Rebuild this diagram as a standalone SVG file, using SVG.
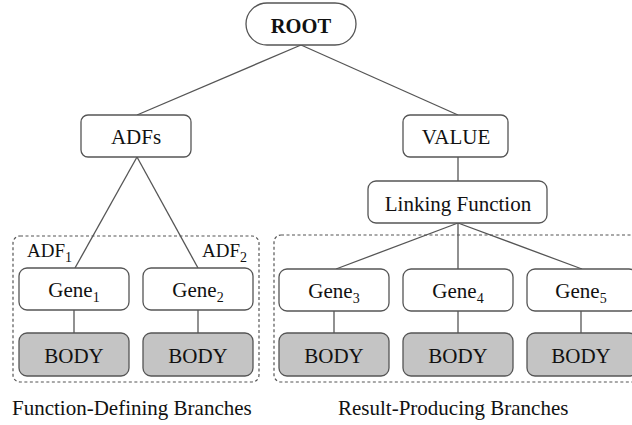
<svg xmlns="http://www.w3.org/2000/svg" width="632" height="425" viewBox="0 0 632 425">
<style>
  text { font-family: "Liberation Serif", "Times New Roman", serif; fill: #111; }
  .n { fill: #fff; stroke: #555; stroke-width: 1.3; }
  .b { fill: #c4c4c4; stroke: #555; stroke-width: 1.3; }
  .t { font-size: 21px; text-anchor: middle; }
  .sub { font-size: 14px; }
  .grp { fill: none; stroke: #555; stroke-width: 1.2; stroke-dasharray: 3 2.5; }
  .c line { stroke: #555; stroke-width: 1.3; }
  .lbl { font-size: 21px; }
</style>
<rect class="grp" x="13" y="236" width="246" height="146" rx="7"/>
<rect class="grp" x="274" y="235" width="380" height="147" rx="7"/>
<g class="c" id="connectors">
  <line x1="301" y1="45" x2="137" y2="115"/>
  <line x1="301" y1="45" x2="458" y2="115"/>
  <line x1="137" y1="157" x2="75" y2="268"/>
  <line x1="137" y1="157" x2="198" y2="268"/>
  <line x1="458" y1="157" x2="458" y2="181"/>
  <line x1="458" y1="223" x2="336" y2="269"/>
  <line x1="458" y1="223" x2="458" y2="269"/>
  <line x1="458" y1="223" x2="582" y2="269"/>
  <line x1="74" y1="310" x2="74" y2="333"/>
  <line x1="198" y1="310" x2="198" y2="333"/>
  <line x1="334" y1="311" x2="334" y2="333"/>
  <line x1="458" y1="311" x2="458" y2="333"/>
  <line x1="581" y1="311" x2="581" y2="333"/>
</g>
<g id="root"><rect class="n" x="246" y="3" width="110" height="42" rx="21"/><text class="t" x="301" y="33" style="font-weight:bold;font-size:20.5px">ROOT</text></g>
<g id="adfs"><rect class="n" x="81" y="115" width="110" height="42" rx="7"/><text class="t" x="136" y="144">ADFs</text></g>
<g id="value"><rect class="n" x="403" y="115" width="105" height="42" rx="7"/><text class="t" x="456" y="144">VALUE</text></g>
<g id="linking"><rect class="n" x="368" y="181" width="179" height="42" rx="8"/><text class="t" x="458" y="211">Linking Function</text></g>
<g id="adf1-label"><text x="27" y="257" style="font-size:19px">ADF<tspan class="sub" dy="5">1</tspan></text></g>
<g id="adf2-label"><text x="247" y="257" style="font-size:19px;text-anchor:end">ADF<tspan class="sub" dy="5">2</tspan></text></g>
<g id="gene1"><rect class="n" x="19" y="268" width="110" height="42" rx="8"/><text class="t" x="74" y="297">Gene<tspan class="sub" dy="5">1</tspan></text></g>
<g id="gene2"><rect class="n" x="143" y="268" width="110" height="42" rx="8"/><text class="t" x="198" y="297">Gene<tspan class="sub" dy="5">2</tspan></text></g>
<g id="gene3"><rect class="n" x="279" y="269" width="110" height="42" rx="8"/><text class="t" x="334" y="298">Gene<tspan class="sub" dy="5">3</tspan></text></g>
<g id="gene4"><rect class="n" x="403" y="269" width="110" height="42" rx="8"/><text class="t" x="458" y="298">Gene<tspan class="sub" dy="5">4</tspan></text></g>
<g id="gene5"><rect class="n" x="527" y="269" width="110" height="42" rx="8"/><text class="t" x="581" y="298">Gene<tspan class="sub" dy="5">5</tspan></text></g>
<g id="body1"><rect class="b" x="19" y="333" width="110" height="43" rx="8"/><text class="t" x="74" y="363">BODY</text></g>
<g id="body2"><rect class="b" x="143" y="333" width="110" height="43" rx="8"/><text class="t" x="198" y="363">BODY</text></g>
<g id="body3"><rect class="b" x="279" y="333" width="110" height="43" rx="8"/><text class="t" x="334" y="363">BODY</text></g>
<g id="body4"><rect class="b" x="403" y="333" width="110" height="43" rx="8"/><text class="t" x="458" y="363">BODY</text></g>
<g id="body5"><rect class="b" x="527" y="333" width="110" height="43" rx="8"/><text class="t" x="581" y="363">BODY</text></g>
<text class="lbl" x="12" y="415">Function-Defining Branches</text>
<text class="lbl" x="338" y="415">Result-Producing Branches</text>
</svg>
